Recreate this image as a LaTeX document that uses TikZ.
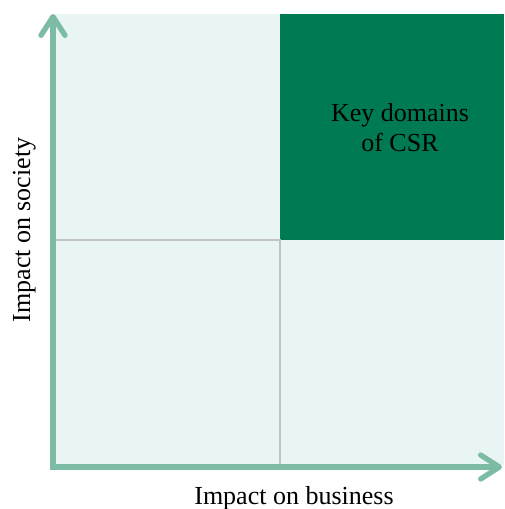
\documentclass[tikz,border=0pt]{standalone}
\usepackage{fontspec}
\setmainfont{Liberation Serif}
\usetikzlibrary{arrows.meta,positioning}

\definecolor{axisgreen}{HTML}{7CBCA4}
\definecolor{csrgreen}{HTML}{007A52}
\definecolor{paleteal}{HTML}{E9F5F4}
\definecolor{gridgray}{HTML}{C2C2C2}

\begin{document}
\begin{tikzpicture}[x=0.75pt,y=-0.75pt,
  axis/.style={draw=axisgreen,line width=4pt,
    -{Straight Barb[length=14pt,width=18pt,round]}},
  label/.style={font=\fontsize{19.5}{22.5}\selectfont,inner sep=0pt}]
  \useasboundingbox (0,0) rectangle (504,509);
  \coordinate(O) at (53,467);
  \coordinate(X) at (502,467);
  \coordinate(Y) at (53,14);
  \coordinate(M) at (280,240);
  % quadrants
  \fill[paleteal] (55,14) rectangle (504,465);
  \fill[csrgreen] (M) rectangle (504,14);
  \draw[gridgray,line width=2.2pt] (55,240)--(M)--(280,465);
  % axes
  \draw[axis](O)--(Y);
  \draw[axis](50,467)--(X);
  \node[label,align=center](key) at (400,128){Key domains\\of CSR};
  \node[label,anchor=base](xlab) at (294,504){Impact on business};
  \node[label,anchor=base,rotate=90](ylab) at (30,230){Impact on society};
\end{tikzpicture}
\end{document}
